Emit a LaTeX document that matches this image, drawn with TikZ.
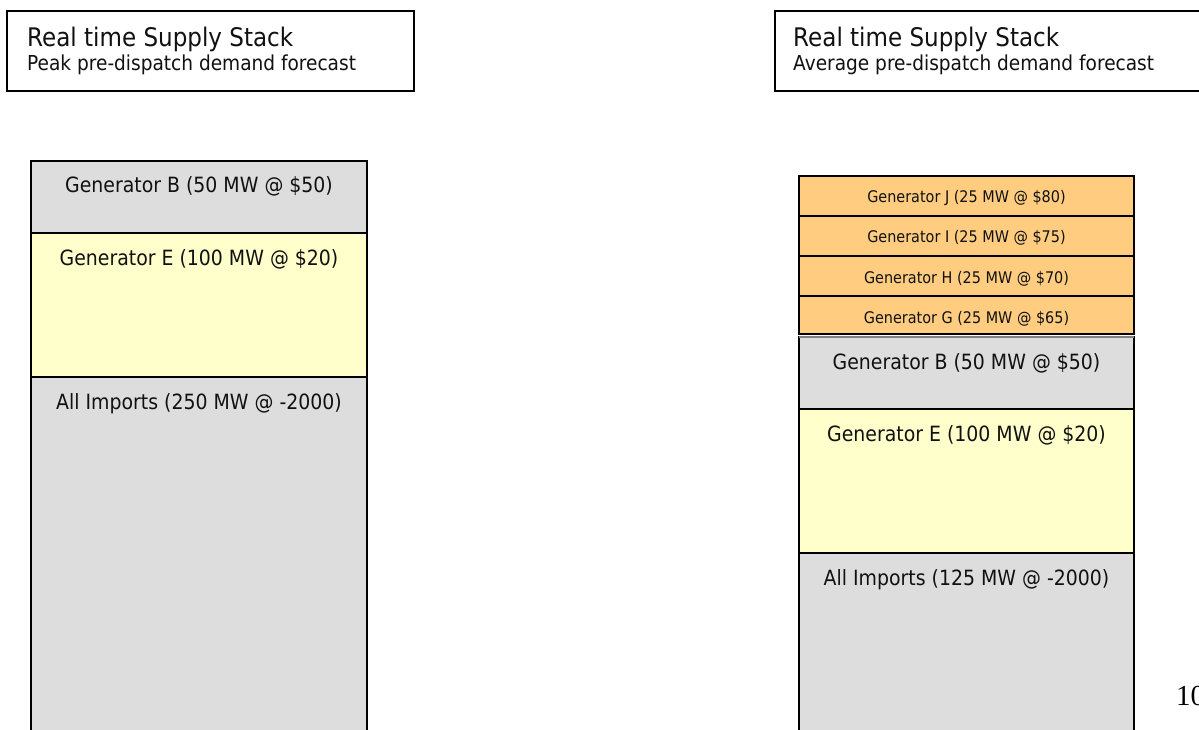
\documentclass[tikz,border=0pt]{standalone}
\usepackage{fontspec}
\setmainfont[FakeStretch=0.9]{DejaVu Sans}
\newfontfamily\seriffont{Liberation Serif}
\definecolor{cellgray}{HTML}{DDDDDD}
\definecolor{cellyellow}{HTML}{FFFFCC}
\definecolor{cellorange}{HTML}{FFCC80}
\definecolor{sepgray}{HTML}{808080}
\definecolor{textblack}{HTML}{111111}
\begin{document}
\begin{tikzpicture}[x=1pt,y=-1pt,
  cell/.style={draw=black, line width=2.5pt, rectangle, inner sep=0pt, outer sep=0pt, anchor=north west},
  titlebox/.style={draw=black, line width=2.5pt, rectangle, inner sep=0pt, outer sep=0pt, anchor=north west, fill=white},
  bigtitle/.style={anchor=base west, inner sep=0pt, text=textblack, font=\fontsize{25.6}{30}\selectfont},
  subtitle/.style={anchor=base west, inner sep=0pt, text=textblack, font=\fontsize{20.6}{24}\selectfont},
  biglabel/.style={anchor=base, inner sep=0pt, text=textblack, font=\fontsize{21}{25}\selectfont},
  smalllabel/.style={anchor=base, inner sep=0pt, text=textblack, font=\fontsize{16}{19}\selectfont},
  grayfill/.style={fill=cellgray},
  yellowfill/.style={fill=cellyellow},
  orangefill/.style={fill=cellorange}]
\useasboundingbox (0,0) rectangle (1199,730);
\clip (0,0) rectangle (1199,730);

% Title boxes
\node[titlebox, minimum width=407pt, minimum height=80pt] (t1) at (7,11) {};
\node[bigtitle] (t1a) at (27,47) {Real time Supply Stack};
\node[subtitle] (t1b) at (27,71) {Peak pre-dispatch demand forecast};

\node[titlebox, minimum width=440pt, minimum height=80pt] (t2) at (775,11) {};
\node[bigtitle] (t2a) at (793,47) {Real time Supply Stack};
\node[subtitle] (t2b) at (793,71) {Average pre-dispatch demand forecast};

% Left stack
\node[cell, grayfill, minimum width=336pt, minimum height=72pt] (lB) at (31,161) {};
\node[cell, yellowfill, minimum width=336pt, minimum height=144pt] (lE) at (31,233) {};
\node[cell, grayfill, minimum width=336pt, minimum height=380pt] (lI) at (31,377) {};
\node[biglabel] (lBt) at ([yshift=-32pt]lB.north) {Generator B (50 MW @ \$50)};
\node[biglabel] (lEt) at ([yshift=-32pt]lE.north) {Generator E (100 MW @ \$20)};
\node[biglabel] (lIt) at ([yshift=-32pt]lI.north) {All Imports (250 MW @ -2000)};

% Right stack
\node[cell, orangefill, minimum width=335pt, minimum height=40pt] (rJ) at (799,176) {};
\node[cell, orangefill, minimum width=335pt, minimum height=40pt] (rI) at (799,216) {};
\node[cell, orangefill, minimum width=335pt, minimum height=40pt] (rH) at (799,256) {};
\node[cell, orangefill, minimum width=335pt, minimum height=38pt] (rG) at (799,296) {};
\node[cell, grayfill, minimum width=335pt, minimum height=72pt] (rB) at (799,337) {};
\node[cell, yellowfill, minimum width=335pt, minimum height=144pt] (rE) at (799,409) {};
\node[cell, grayfill, minimum width=335pt, minimum height=200pt] (rIm) at (799,553) {};
\draw[sepgray, line width=1.5pt] (rB.north west) -- (rB.north east);
\node[smalllabel] (rJt) at ([yshift=-27pt]rJ.north) {Generator J (25 MW @ \$80)};
\node[smalllabel] (rIt) at ([yshift=-27pt]rI.north) {Generator I (25 MW @ \$75)};
\node[smalllabel] (rHt) at ([yshift=-27pt]rH.north) {Generator H (25 MW @ \$70)};
\node[smalllabel] (rGt) at ([yshift=-27pt]rG.north) {Generator G (25 MW @ \$65)};
\node[biglabel] (rBt) at ([yshift=-32pt]rB.north) {Generator B (50 MW @ \$50)};
\node[biglabel] (rEt) at ([yshift=-32pt]rE.north) {Generator E (100 MW @ \$20)};
\node[biglabel] (rImt) at ([yshift=-32pt]rIm.north) {All Imports (125 MW @ -2000)};

% Page number (cut off at the right edge, as in the reference)
\node[anchor=base west, inner sep=0pt, font=\seriffont\fontsize{29}{33}\selectfont] (pg) at (1176,705) {10};
\end{tikzpicture}
\end{document}
